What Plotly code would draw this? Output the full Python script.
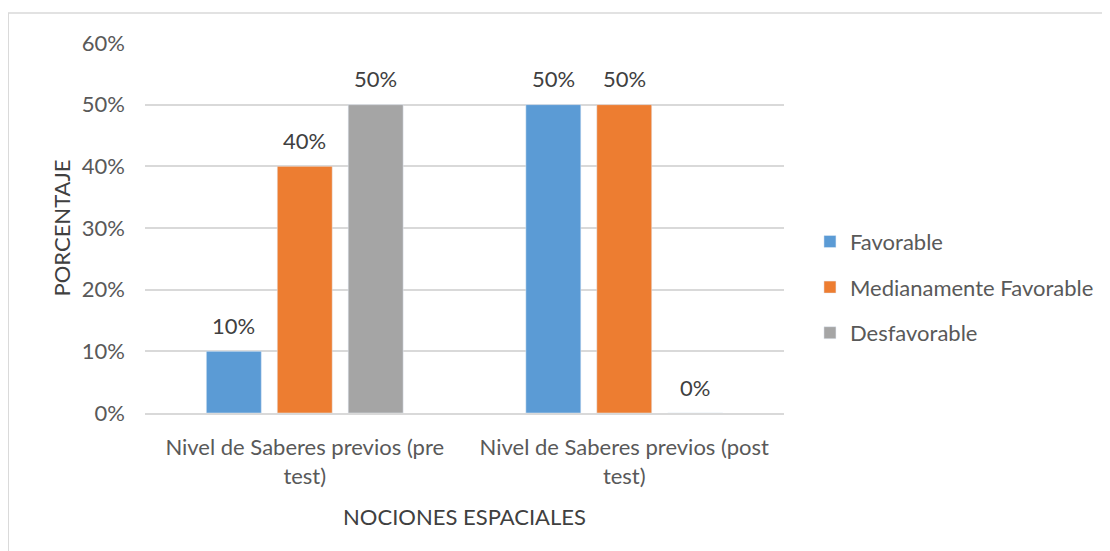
import plotly.graph_objects as go

categories = ["Nivel de Saberes previos (pre<br>test)", "Nivel de Saberes previos (post<br>test)"]
series_names = ["Favorable", "Medianamente Favorable", "Desfavorable"]
favorable = [10, 50]
medianamente = [40, 50]
desfavorable = [50, 0]
colors = ["#5B9BD5", "#ED7D31", "#A5A5A5"]
y_ticks = [0, 10, 20, 30, 40, 50, 60]
y_tick_text = [f"{v}%" for v in y_ticks]

FONT = "Lato, Open Sans, sans-serif"
FS = 22
W, H = 1102, 543
L, T = 137, 35
PW, PH = 640, 370
R = W - L - PW
B = H - T - PH

fig = go.Figure()
series = [favorable, medianamente, desfavorable]
for i, (name, vals, col) in enumerate(zip(series_names, series, colors)):
    fig.add_trace(go.Bar(
        name=name, x=categories, y=vals, marker_color=col,
        legendgroup=name,
    ))
    for c, v in zip(categories, vals):
        fig.add_annotation(x=c, y=v, xref="x", yref="y", text=f"{v}%",
                           showarrow=False, xshift=(i - 1) * 71, yshift=26,
                           yanchor="middle",
                           font=dict(size=FS, color="#404040", family=FONT))

fig.add_shape(type="rect", xref="paper", yref="paper",
              x0=-L / PW, x1=(W - L - 1) / PW,
              y0=-(B + 5) / PH, y1=(PH + T - 5) / PH,
              line=dict(color="#D9D9D9", width=1.5), fillcolor="rgba(0,0,0,0)", layer="below")

fig.update_layout(
    width=W, height=H,
    margin=dict(l=L, r=R, t=T, b=B),
    paper_bgcolor="white", plot_bgcolor="white",
    barmode="group", bargap=0.334, bargroupgap=0.225,
    font=dict(family=FONT, color="#595959", size=FS),
    legend=dict(x=1.039, y=0.34, yanchor="middle", xanchor="left",
                font=dict(size=FS, color="#595959", family=FONT),
                itemwidth=30, tracegroupgap=14, bgcolor="rgba(0,0,0,0)"),
    xaxis=dict(showline=True, linecolor="#D9D9D9", linewidth=1.5,
               tickfont=dict(size=FS, color="#595959"), ticklabelstandoff=14,
               title=dict(text="NOCIONES ESPACIALES", font=dict(size=FS, color="#404040"), standoff=22)),
    yaxis=dict(range=[0, 60], tickvals=y_ticks, ticktext=y_tick_text,
               showgrid=True, gridcolor="#D9D9D9", gridwidth=1.5, zeroline=False,
               tickfont=dict(size=FS, color="#595959"), ticks="", ticklabelstandoff=19,
               title=dict(text="PORCENTAJE", font=dict(size=FS, color="#404040"), standoff=5)),
)

fig.write_html("out.html")
